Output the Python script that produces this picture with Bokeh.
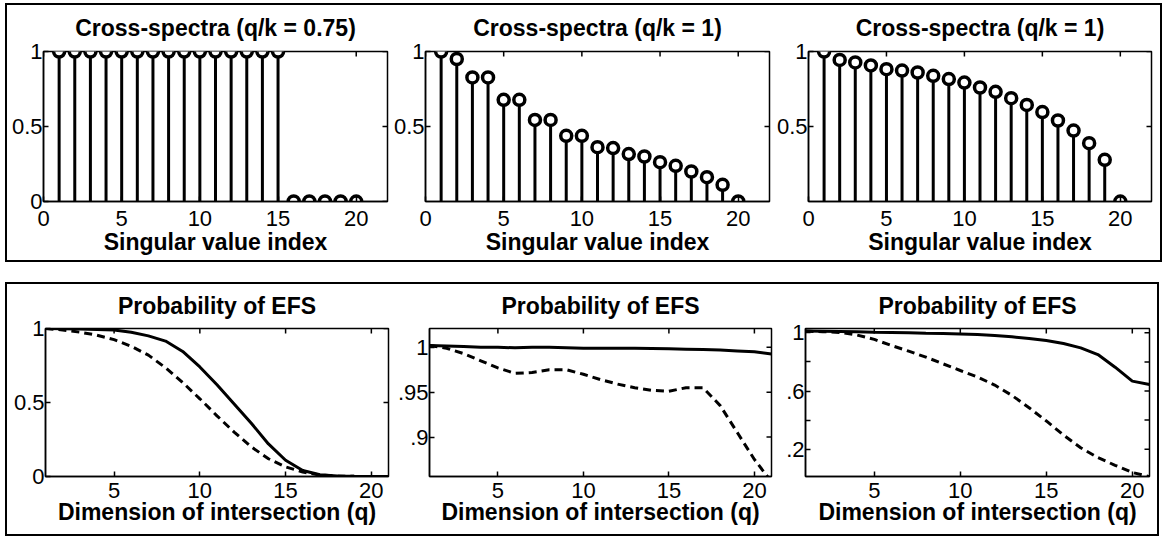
import math
from bokeh.plotting import figure
from bokeh.layouts import row, column
from bokeh.models import FixedTicker, Range1d
from bokeh.embed import file_html
from bokeh.resources import INLINE

# ---------------- data ----------------
sv_index = list(range(1, 21))
cs_075 = [1] * 15 + [0] * 5
cs_1a = [1.0, 0.95, 0.827, 0.827, 0.678, 0.678, 0.544, 0.544, 0.438, 0.438,
         0.362, 0.356, 0.316, 0.30, 0.262, 0.238, 0.20, 0.162, 0.111, 0.0]
cs_1b = [1.0, 0.944, 0.927, 0.907, 0.882, 0.873, 0.86, 0.838, 0.816, 0.793,
         0.76, 0.731, 0.689, 0.644, 0.596, 0.54, 0.473, 0.389, 0.278, 0.0]

q = list(range(1, 22))
efs1_solid = [1.0, 0.999, 0.997, 0.994, 0.99, 0.975, 0.95, 0.915, 0.845, 0.74,
              0.62, 0.49, 0.36, 0.22, 0.11, 0.04, 0.012, 0.003, 0.001, 0.0, 0.0]
efs1_dash = [1.0, 0.99, 0.975, 0.955, 0.925, 0.88, 0.82, 0.735, 0.635, 0.525,
             0.41, 0.30, 0.20, 0.12, 0.065, 0.03, 0.01, 0.003, 0.001, 0.0, 0.0]
efs2_solid = [1.002, 1.0015, 1.001, 1.0, 1.0, 0.9995, 1.0, 1.0, 0.9995, 0.999,
              0.999, 0.999, 0.999, 0.9988, 0.9985, 0.998, 0.9975, 0.997, 0.996, 0.995, 0.9925]
efs2_dash = [1.002, 0.999, 0.993, 0.985, 0.977, 0.971, 0.972, 0.975, 0.975, 0.970,
             0.964, 0.959, 0.955, 0.952, 0.951, 0.955, 0.955, 0.935, 0.905, 0.875, 0.85]
efs3_solid = [1.012, 1.011, 1.01, 1.007, 1.004, 1.002, 1.0, 0.997, 0.995, 0.992,
              0.988, 0.982, 0.973, 0.961, 0.947, 0.927, 0.897, 0.851, 0.764, 0.668, 0.645]
efs3_dash = [1.012, 1.008, 1.003, 0.985, 0.955, 0.913, 0.874, 0.833, 0.787, 0.741,
             0.696, 0.641, 0.57, 0.485, 0.394, 0.297, 0.21, 0.142, 0.089, 0.04, 0.01]

top_titles = ["Cross-spectra (q/k = 0.75)", "Cross-spectra (q/k = 1)", "Cross-spectra (q/k = 1)"]
bot_title = "Probability of EFS"
top_xlabel = "Singular value index"
bot_xlabel = "Dimension of intersection (q)"
top_xticks = [0, 5, 10, 15, 20]
bot_xticks = [5, 10, 15, 20]

FONT = "Liberation Sans"
TICK_FS = "22px"
LAB_FS = "23px"


def make_fig(title, xlabel, xr, yr, xticks, yticks, ylabels, fw, fh, bl, br, bt, bb,
             title_standoff, x_standoff, lab_standoff):
    p = figure(output_backend="svg", toolbar_location=None,
               frame_width=fw, frame_height=fh,
               min_border_left=bl, min_border_right=br,
               min_border_top=bt, min_border_bottom=bb,
               x_range=Range1d(*xr), y_range=Range1d(*yr),
               title=title)
    p.title.text_font = FONT
    p.title.text_font_size = LAB_FS
    p.title.text_font_style = "bold"
    p.title.text_color = "black"
    p.title.align = "center"
    p.title.vertical_align = "top"
    p.title.standoff = title_standoff
    p.grid.visible = False
    p.outline_line_color = "black"
    p.outline_line_width = 1.5
    p.background_fill_color = "white"
    p.border_fill_color = "white"

    xa = p.below[0]
    ya = p.left[0]
    xa.ticker = FixedTicker(ticks=xticks)
    xa.major_label_overrides = {t: str(t) for t in xticks}
    xa.axis_label = xlabel
    ya.ticker = FixedTicker(ticks=yticks)
    ya.major_label_overrides = dict(zip(yticks, ylabels))
    for ax in (xa, ya):
        ax.major_tick_in = 5
        ax.major_tick_out = 0
        ax.minor_tick_in = 0
        ax.minor_tick_out = 0
        ax.axis_line_color = "black"
        ax.axis_line_width = 1.5
        ax.major_tick_line_width = 1.5
        ax.major_label_text_font = FONT
        ax.major_label_text_font_size = TICK_FS
        ax.major_label_text_color = "black"
        ax.major_label_standoff = 1
    xa.major_label_standoff = x_standoff
    xa.axis_label_text_font = FONT
    xa.axis_label_text_font_size = LAB_FS
    xa.axis_label_text_font_style = "bold"
    xa.axis_label_text_color = "black"
    xa.axis_label_standoff = lab_standoff

    # mirrored inward ticks on top and right edges (half of each dash is clipped by the frame)
    p.scatter(x=xticks, y=[yr[1]] * len(xticks), marker="dash", angle=math.pi / 2,
              size=10, line_color="black", line_width=1.5)
    p.scatter(x=[xr[1]] * len(yticks), y=yticks, marker="dash",
              size=10, line_color="black", line_width=1.5)
    return p


def stems(p, xs, ys):
    p.segment(x0=xs, y0=[0] * len(xs), x1=xs, y1=ys, line_color="black", line_width=3)
    p.scatter(xs, ys, marker="circle", size=11, fill_color="white",
              line_color="black", line_width=3.5)


# ---------------- top row ----------------
t1 = make_fig(top_titles[0], top_xlabel, (0, 22), (0, 1), top_xticks, [0, 0.5, 1], ["0", "0.5", "1"],
              344, 150, 36, 3, 46, 59, 18, 9, 0)
stems(t1, sv_index, cs_075)
t2 = make_fig(top_titles[1], top_xlabel, (0, 22), (0, 1), top_xticks, [0.5, 1], ["0.5", "1"],
              344, 150, 33, 4, 46, 59, 18, 9, 0)
stems(t2, sv_index, cs_1a)
t3 = make_fig(top_titles[2], top_xlabel, (0, 22), (0, 1), top_xticks, [0.5, 1], ["0.5", "1"],
              343, 150, 34, 9, 46, 59, 18, 9, 0)
stems(t3, sv_index, cs_1b)

# ---------------- bottom row ----------------
b1 = make_fig(bot_title, bot_xlabel, (1, 21), (0, 1), bot_xticks, [0, 0.5, 1], ["0", "0.5", "1"],
              343, 148, 38, 5, 44, 58, 16, 6, -2)
b2 = make_fig(bot_title, bot_xlabel, (1, 21), (0.856, 1.021), bot_xticks, [0.9, 0.95, 1.0], [".9", ".95", "1"],
              342, 148, 36, 10, 44, 58, 16, 6, -2)
b3 = make_fig(bot_title, bot_xlabel, (1, 21), (0.012, 1.03), bot_xticks, [0.2, 0.4, 0.6, 0.8, 1.0],
              [".2", "", ".6", "", "1"], 344, 148, 24, 8, 44, 58, 16, 6, -2)
for p, s, d in ((b1, efs1_solid, efs1_dash), (b2, efs2_solid, efs2_dash), (b3, efs3_solid, efs3_dash)):
    p.line(q, s, line_color="black", line_width=3)
    p.line(q, d, line_color="black", line_width=3, line_dash="8 5")

box = {"border": "2px solid black", "background-color": "white"}
r1 = row(t1, t2, t3, styles=box, margin=(3, 0, 0, 5))
r2 = row(b1, b2, b3, styles=box, margin=(20, 0, 0, 5))
page = column(r1, r2, styles={"background-color": "white"})

open("out.html", "w").write(file_html(page, INLINE))
